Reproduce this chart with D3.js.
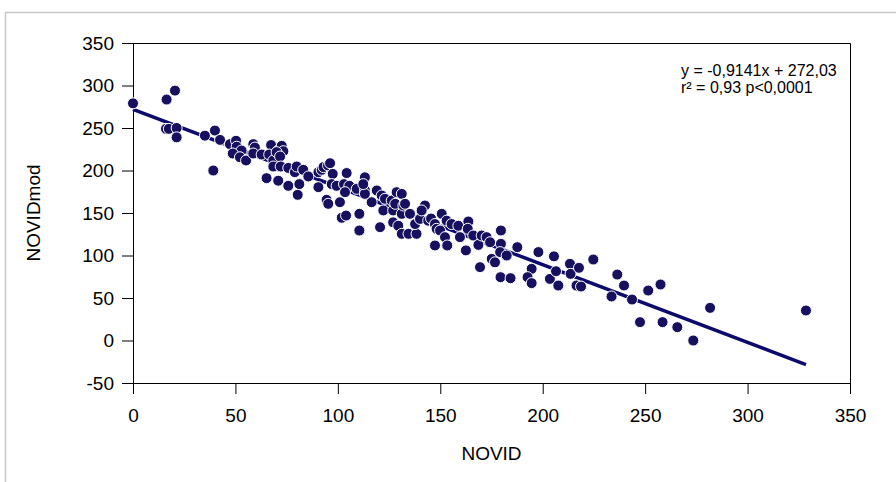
<!DOCTYPE html>
<html>
<head>
<meta charset="utf-8">
<script src="https://cdn.jsdelivr.net/npm/d3@7"></script>
<style>
    body { margin: 0; background: #fff; }
    svg { display: block; font-family: "Liberation Sans", Arial, Helvetica, sans-serif; }
</style>
</head>
<body>
<div id="chart"></div>
<script>
// values
var novid = [0, 16.4, 20.5, 16.1, 17.5, 21.3, 21.3, 35.1, 40, 42.5, 39.2, 47.3, 50.3, 50.6, 53, 48.7, 52.2, 55.2,
    58.7, 59.5, 58.7, 62.8, 65.2, 67.4, 66.5, 68.5, 70.9, 72.6, 73.4, 70.1, 71.8, 68.5, 70.9, 72.1, 75.8, 75.8,
    79, 79.9, 80.4, 81.2, 83.1, 85.6, 90.5, 90.5, 92.1, 93, 95.2, 96.2, 97.5, 97, 99.4, 94.5, 95.3, 101, 104.3, 103,
    105.6, 103.5, 101.9, 104, 110.5, 110.5, 113.2, 109.2, 113.2, 116.5, 120.6, 119, 121.4, 123, 122.2, 126.3,
    127, 127, 128.7, 129.5, 113.2, 112.4, 128, 131.2, 132, 131.2, 132.8, 131.2, 134.5, 138.4, 135.2, 137.7,
    140.1, 142.5, 140.9, 144.1, 145.5, 147.4, 148.2, 147.4, 150.7, 149.9, 153.1, 155.5, 152.3, 153.4, 158.8,
    159.6, 162.5, 163.7, 163.4, 166.1, 168.6, 170.2, 172.6, 174.3, 175.1, 176.7, 179.6, 179.6, 179.2, 182.4,
    169.4, 179.4, 184.3, 187.6, 194.6, 192.6, 194.6, 197.9, 205.5, 203.5, 206.5, 207.6, 213.3, 213.6, 217.7,
    216.5, 218.7, 224.7, 233.6, 236.4, 239.7, 243.6, 247.5, 251.5, 257.5, 258.5, 265.7, 273.5, 281.7, 328.5];
var novidMod = [279, 283.5, 294, 249, 249, 250, 239, 241, 247, 236, 200, 231, 235, 228, 223.5, 220, 215.6, 211.8,
    231, 227, 220, 218.8, 191, 230, 218.8, 211.8, 223.5, 229, 222.7, 221.6, 216.5, 204.7, 188, 204.7, 203, 182,
    198, 204.7, 171.4, 184, 200.8, 193, 180.4, 198, 200.8, 204, 206, 208.6, 196, 184, 182, 165.5, 160.8, 162.7, 197, 184,
    182, 174.5, 144.4, 147, 149, 129.4, 192, 178.4, 176.5, 162.7, 133.3, 176.5, 170.6, 166.7, 153, 164.7,
    153, 139, 174.5, 135, 172.5, 184, 160.8, 149, 158.8, 172.5, 160.8, 125.5, 125.5, 125.5, 149, 137,
    143, 158.8, 153, 141, 143.5, 137, 131.4, 111.8, 149, 129.4, 141, 137, 121.6, 111.8, 135,
    121.6, 106, 140, 131.4, 123.5, 112.5, 123.5, 121.6, 115.6, 96, 92, 129.4, 113.7, 104, 100,
    86.3, 74.5, 73.3, 109.8, 84.3, 74.5, 67.5, 104, 99, 72.5, 81.5, 64.7, 90.2, 78.4, 85.5,
    64.7, 63.5, 95.3, 51.8, 77.6, 64.7, 48.2, 21.6, 58.8, 65.9, 21.6, 15.7, 0, 38.4, 35.3];

var xTicks = [0, 50, 100, 150, 200, 250, 300, 350];
var yTicks = [-50, 0, 50, 100, 150, 200, 250, 300, 350];
var slope = -0.9141, intercept = 272.03;
var fitRange = [0, 328.5];
var equation = ["y = -0,9141x + 272,03", "r\u00B2 = 0,93 p<0,0001"];

var width = 896, height = 482;
var margin = { top: 43, right: 46, bottom: 99, left: 133 };

var svg = d3.select("#chart").append("svg")
    .attr("width", width)
    .attr("height", height);

// light grey frame round the figure
svg.append("path")
    .attr("d", "M5.5,482 V12.5 H896")
    .attr("fill", "none")
    .attr("stroke", "#c8c8c8")
    .attr("stroke-width", 1.5);

var x = d3.scaleLinear().domain([0, 350]).range([margin.left, width - margin.right]);
var y = d3.scaleLinear().domain([-50, 350]).range([height - margin.bottom, margin.top]);

// box top and right
svg.append("path")
    .attr("d", "M" + x(0) + "," + (y(350) + 0.5) + " H" + (x(350) + 0.5) + " V" + y(-50))
    .attr("fill", "none")
    .attr("stroke", "#000")
    .attr("stroke-width", 1);

// plain hyphen for negative labels, as in the original
var fmt = function (d) { return String(d); };

var xAxis = svg.append("g")
    .attr("transform", "translate(0," + y(-50) + ")")
    .call(d3.axisBottom(x).tickValues(xTicks).tickFormat(fmt).tickSize(11).tickSizeOuter(0).tickPadding(15));

var yAxis = svg.append("g")
    .attr("transform", "translate(" + x(0) + ",0)")
    .call(d3.axisLeft(y).tickValues(yTicks).tickFormat(fmt).tickSize(11).tickSizeOuter(0).tickPadding(8));

[xAxis, yAxis].forEach(function (g) {
    g.selectAll("text").attr("font-size", 19).attr("font-family", null).attr("fill", "#000");
    g.selectAll("line").attr("stroke", "#000");
    g.select(".domain").attr("stroke", "#000");
});

// axis titles
svg.append("text")
    .attr("x", (x(0) + x(350)) / 2)
    .attr("y", 460)
    .attr("text-anchor", "middle")
    .attr("font-size", 19)
    .attr("fill", "#000")
    .text("NOVID");

svg.append("text")
    .attr("transform", "translate(40," + (y(-50) + y(350)) / 2 + ") rotate(-90)")
    .attr("text-anchor", "middle")
    .attr("font-size", 19)
    .attr("fill", "#000")
    .text("NOVIDmod");

// regression line
svg.append("line")
    .attr("x1", x(fitRange[0]))
    .attr("y1", y(intercept + slope * fitRange[0]))
    .attr("x2", x(fitRange[1]))
    .attr("y2", y(intercept + slope * fitRange[1]))
    .attr("stroke", "#0c0a6c")
    .attr("stroke-width", 3.5);

// points
var punkter = novid.map(function (d, i) { return { x: d, y: novidMod[i] }; });
svg.selectAll(".dot")
    .data(punkter)
    .enter().append("circle")
    .attr("class", "dot")
    .attr("cx", function (d) { return x(d.x); })
    .attr("cy", function (d) { return y(d.y); })
    .attr("r", 5.5)
    .attr("fill", "#16105f")
    .attr("stroke", "#fff")
    .attr("stroke-width", 1);

// equation
svg.selectAll(".eq")
    .data(equation)
    .enter().append("text")
    .attr("class", "eq")
    .attr("x", 681)
    .attr("y", function (d, i) { return 76 + i * 17; })
    .attr("font-size", 16)
    .attr("fill", "#000")
    .text(function (d) { return d; });
</script>
</body>
</html>
